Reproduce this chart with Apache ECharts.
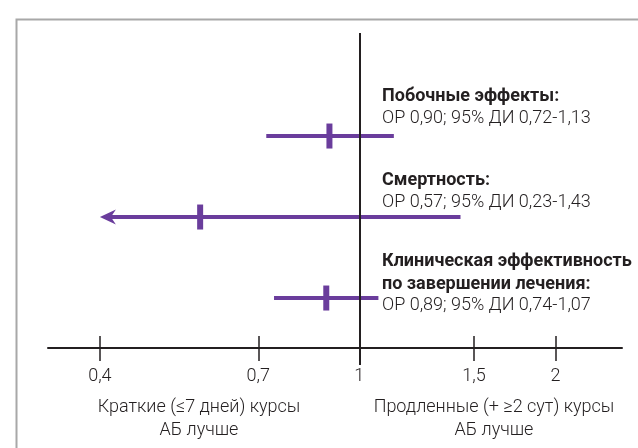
<!DOCTYPE html>
<html>
<head>
<meta charset="utf-8">
<script src="https://cdn.jsdelivr.net/npm/echarts@6/dist/echarts.min.js"></script>
<style>
html,body{margin:0;padding:0;background:#fff;}
#chart{width:638px;height:448px;}
</style>
</head>
<body>
<div id="chart"></div>
<script>
// ---- data ----
const groupTitles = [['Побочные эффекты:'], ['Смертность:'], ['Клиническая эффективность', 'по завершении лечения:']];
const oddsRatio = [0.90, 0.57, 0.89];
const ciLow = [0.72, 0.23, 0.74];
const ciHigh = [1.13, 1.43, 1.07];
const tickValues = [0.4, 0.7, 1, 1.5, 2];
const tickLabels = ['0,4', '0,7', '1', '1,5', '2'];
const leftCaption = ['Краткие (≤7 дней) курсы', 'АБ лучше'];
const rightCaption = ['Продленные (+ ≥2 сут) курсы', 'АБ лучше'];

// ---- scale settings ----
const axisMinValue = 0.333, axisMaxValue = 2.53;   // log axis domain
const displayMin = 0.4;                             // CI beyond this is drawn as an arrow
const toAxis = v => Math.log(v);
const fmt = v => v.toFixed(2).replace('.', ',');

const PURPLE = '#6a3d9c';
const INK = '#231f20';
const FONT = 'Roboto';
const FS = 18;

const n = oddsRatio.length;
const seriesData = oddsRatio.map((or, i) => [toAxis(or), n - 1 - i, toAxis(Math.max(ciLow[i], displayMin)), toAxis(ciHigh[i]), ciLow[i] < displayMin ? 1 : 0]);

const chart = echarts.init(document.getElementById('chart'), null, {renderer: 'canvas'});

const xMin = toAxis(axisMinValue), xMax = toAxis(axisMaxValue);
const tickAxisVals = tickValues.map(toAxis);
const labelFor = v => {
  let best = 0;
  tickAxisVals.forEach((t, i) => { if (Math.abs(t - v) < Math.abs(tickAxisVals[best] - v)) best = i; });
  return tickLabels[best];
};

const graphics = [];
// frame
graphics.push({type: 'rect', left: 14, top: 17, shape: {width: 700, height: 500}, style: {fill: 'none', stroke: '#a8a8a8', lineWidth: 2}, silent: true});

// group annotations
const lineYs = [[96, 118], [180, 202], [261, 284, 305]];
groupTitles.forEach((lines, i) => {
  const ys = lineYs[i];
  lines.forEach((t, j) => {
    graphics.push({type: 'text', x: 382, y: ys[j], style: {text: t, font: `bold ${FS}px ${FONT}`, fill: INK, align: 'left', verticalAlign: 'middle'}});
  });
  const orText = `ОР ${fmt(oddsRatio[i])}; 95% ДИ ${fmt(ciLow[i])}-${fmt(ciHigh[i])}`;
  graphics.push({type: 'text', x: 382, y: ys[lines.length], style: {text: orText, font: `300 ${FS}px ${FONT}`, fill: INK, align: 'left', verticalAlign: 'middle'}});
});
// captions
[[leftCaption, 199], [rightCaption, 494]].forEach(([lines, cx]) => {
  lines.forEach((t, j) => {
    graphics.push({type: 'text', x: cx, y: 407 + j * 23, style: {text: t, font: `300 ${FS}px ${FONT}`, fill: INK, align: 'center', verticalAlign: 'middle'}});
  });
});

const baseX = {
  type: 'value', min: xMin, max: xMax, position: 'bottom',
  splitLine: {show: false}
};

chart.setOption({
  animation: false,
  grid: {left: 48, right: 16, top: 33, bottom: 100, containLabel: false},
  xAxis: [
    Object.assign({}, baseX, {
      axisLine: {show: true, onZero: false, lineStyle: {color: INK, width: 2}},
      axisTick: {show: true, inside: false, length: 13, customValues: tickAxisVals, lineStyle: {color: INK, width: 1.5}},
      axisLabel: {show: true, customValues: tickAxisVals, margin: 19, formatter: labelFor, color: INK, fontFamily: FONT, fontWeight: 300, fontSize: FS}
    }),
    Object.assign({}, baseX, {
      axisLine: {show: false, onZero: false},
      axisTick: {show: true, inside: true, length: 12, customValues: tickAxisVals, lineStyle: {color: INK, width: 1.5}},
      axisLabel: {show: false}
    }),
    Object.assign({}, baseX, {
      axisLine: {show: false, onZero: false},
      axisTick: {show: true, inside: false, length: 17, customValues: [toAxis(1)], lineStyle: {color: INK, width: 2}},
      axisLabel: {show: false}
    })
  ],
  yAxis: {type: 'value', min: -0.617, max: 3.272, show: false},
  graphic: graphics,
  series: [
    {
      type: 'custom',
      xAxisIndex: 0,
      z: 2,
      encode: {x: [0, 2, 3], y: 1},
      data: seriesData,
      renderItem(params, api) {
        const row = api.value(1);
        const pMid = api.coord([api.value(0), row]);
        const pLo = api.coord([api.value(2), row]);
        const pHi = api.coord([api.value(3), row]);
        const arrow = api.value(4) === 1;
        const children = [
          {type: 'line', shape: {x1: pLo[0] + (arrow ? 10 : 0), y1: pLo[1], x2: pHi[0], y2: pHi[1]}, style: {stroke: PURPLE, lineWidth: 4, lineCap: 'butt'}},
          {type: 'rect', shape: {x: pMid[0] - 3, y: pMid[1] - 12.5, width: 6, height: 25}, style: {fill: PURPLE}}
        ];
        if (arrow) {
          const x = pLo[0], y = pLo[1];
          children.push({type: 'polygon', shape: {points: [[x, y], [x + 16, y - 7.5], [x + 11, y], [x + 16, y + 7.5]]}, style: {fill: PURPLE}});
        }
        return {type: 'group', children};
      }
    },
    {
      type: 'line', data: [], z: 5, silent: true,
      markLine: {
        silent: true, symbol: ['none', 'none'], label: {show: false},
        lineStyle: {color: INK, width: 2, type: 'solid'},
        data: [{xAxis: toAxis(1)}]
      }
    }
  ]
});
</script>
</body>
</html>
